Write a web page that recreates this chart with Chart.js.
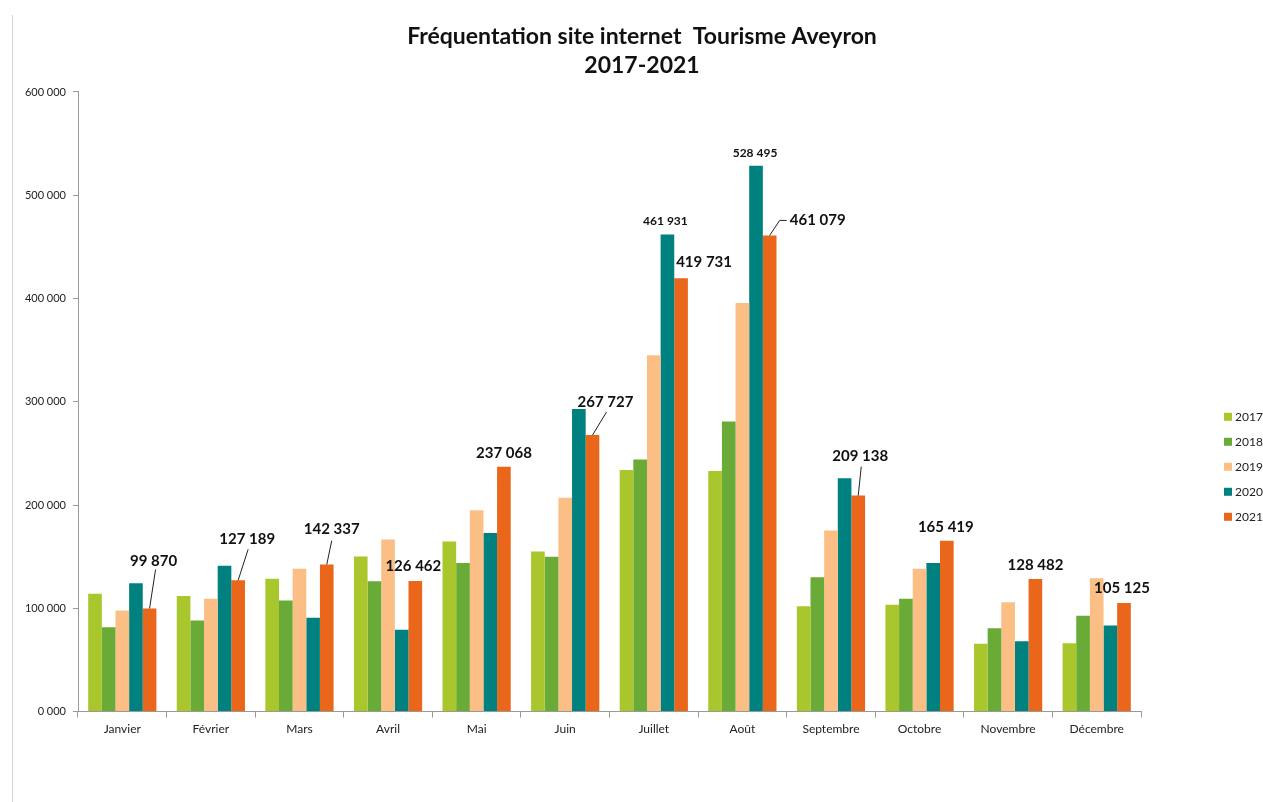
<!DOCTYPE html>
<html lang="fr">

<head>
    <meta charset="UTF-8">
    <title>Fréquentation site internet Tourisme Aveyron</title>
    <script src="https://cdn.jsdelivr.net/npm/chart.js@4.4.0/dist/chart.umd.min.js"></script>
    <style>
        body { margin: 0; background: #fff; }
        #cadre { position: relative; width: 1263px; height: 802px; }
        #trait { position: absolute; left: 12px; top: 15px; bottom: 0; border-left: 1px solid #d4d4d4; }
    </style>
</head>

<body>
    <div id="cadre">
        <div id="trait"></div>
        <canvas id="myChart" width="1263" height="802"></canvas>
    </div>

    <script>
        // données
        const mois = ['Janvier', 'Février', 'Mars', 'Avril', 'Mai', 'Juin', 'Juillet', 'Août', 'Septembre', 'Octobre', 'Novembre', 'Décembre']
        const annees = ['2017', '2018', '2019', '2020', '2021']
        const v2017 = [114000, 112000, 128600, 150200, 164700, 155000, 234000, 233000, 102000, 103400, 65600, 66200]
        const v2018 = [81700, 88200, 107600, 126300, 144000, 150000, 244000, 281000, 130100, 109200, 80700, 92700]
        const v2019 = [97900, 109200, 138300, 166700, 195000, 207000, 345000, 395700, 175400, 138300, 105900, 129200]
        const v2020 = [124300, 141200, 90800, 79200, 173000, 293000, 461931, 528495, 226000, 144000, 68100, 83300]
        const v2021 = [99870, 127189, 142337, 126462, 237068, 267727, 419731, 461079, 209138, 165419, 128482, 105125]
        const yTicks = [0, 100000, 200000, 300000, 400000, 500000, 600000]

        const couleurs = ['#a9c62c', '#6aaa37', '#fbbf86', '#00807f', '#e9661a']

        // étiquettes de valeur : décalage par rapport au haut de la barre, trait de rappel éventuel
        const etiquettes = [
            { ds: 4, i: 0, dx: 4, dy: -47, trait: [[2, 8]] },
            { ds: 4, i: 1, dx: 9, dy: -41, trait: [[1, 10]] },
            { ds: 4, i: 2, dx: 5, dy: -35, trait: [[0, 11]] },
            { ds: 4, i: 3, dx: -2, dy: -15 },
            { ds: 4, i: 4, dx: 0, dy: -14 },
            { ds: 4, i: 5, dx: 13, dy: -33, trait: [[1, 10]] },
            { ds: 4, i: 6, dx: 23, dy: -16 },
            { ds: 4, i: 7, dx: 48, dy: -15, trait: [[-31, 0], [-38, 0]] },
            { ds: 4, i: 8, dx: 2, dy: -39, trait: [[1, 10]] },
            { ds: 4, i: 9, dx: -1, dy: -14 },
            { ds: 4, i: 10, dx: 0, dy: -14 },
            { ds: 4, i: 11, dx: -2, dy: -15 },
            { ds: 3, i: 6, dx: -2, dy: -13, petit: true },
            { ds: 3, i: 7, dx: -1, dy: -13, petit: true }
        ]

        const milliers = v => String(v).replace(/\B(?=(\d{3})+(?!\d))/g, ' ')

        const valeursPlugin = {
            id: 'valeurs',
            afterDatasetsDraw(chart) {
                const ctx = chart.ctx
                ctx.save()
                ctx.fillStyle = '#111'
                ctx.strokeStyle = '#222'
                ctx.lineWidth = 1
                ctx.textAlign = 'center'
                ctx.textBaseline = 'middle'
                etiquettes.forEach(e => {
                    const bar = chart.getDatasetMeta(e.ds).data[e.i]
                    const val = chart.data.datasets[e.ds].data[e.i]
                    const x = bar.x + e.dx
                    const y = bar.y + e.dy
                    ctx.font = e.petit ? 'bold 12px Lato' : 'bold 15px Lato'
                    ctx.fillText(milliers(val), x, y)
                    if (e.trait) {
                        ctx.beginPath()
                        e.trait.forEach((p, k) => {
                            if (k == 0) ctx.moveTo(x + p[0], y + p[1])
                            else ctx.lineTo(x + p[0], y + p[1])
                        })
                        ctx.lineTo(bar.x, bar.y)
                        ctx.stroke()
                    }
                })
                ctx.restore()
            }
        }

        // légende à droite, comme dans Excel
        const legendePlugin = {
            id: 'legende',
            afterDraw(chart) {
                const ctx = chart.ctx
                const a = chart.chartArea
                const x = a.right + 83
                const y0 = (a.top + a.bottom) / 2 + 15
                ctx.save()
                ctx.font = '12px Lato'
                ctx.textBaseline = 'middle'
                chart.data.datasets.forEach((d, k) => {
                    const y = y0 + k * 25
                    ctx.fillStyle = d.backgroundColor
                    ctx.fillRect(x, y - 4, 8, 8)
                    ctx.fillStyle = '#222'
                    ctx.fillText(d.label, x + 11, y)
                })
                ctx.restore()
            }
        }

        const series = [v2017, v2018, v2019, v2020, v2021]

        Chart.defaults.font.family = 'Lato'
        Chart.defaults.color = '#222'

        const ctx = document.getElementById('myChart').getContext('2d')
        const myChart = new Chart(ctx, {
            type: 'bar',
            data: {
                labels: mois,
                datasets: series.map((s, k) => ({
                    label: annees[k],
                    data: s,
                    backgroundColor: couleurs[k],
                    categoryPercentage: 0.77,
                    barPercentage: 1
                }))
            },
            options: {
                responsive: false,
                animation: false,
                layout: {
                    padding: { left: 21, right: 0, top: 0, bottom: 62 }
                },
                plugins: {
                    legend: { display: false },
                    tooltip: { enabled: false },
                    title: {
                        display: true,
                        text: ['Fréquentation site internet  Tourisme Aveyron', '2017-2021'],
                        color: '#111',
                        font: { size: 23, weight: 'bold', lineHeight: 1.26 },
                        padding: { top: 22, bottom: 12 }
                    }
                },
                scales: {
                    x: {
                        grid: { display: true, drawOnChartArea: false, offset: true, tickLength: 6, color: '#999' },
                        border: { color: '#999' },
                        ticks: { padding: 4, font: { size: 12 } }
                    },
                    y: {
                        min: 0,
                        max: 600000,
                        afterFit: s => { s.width = 57 },
                        afterBuildTicks: s => { s.ticks = yTicks.map(v => ({ value: v })) },
                        grid: { display: true, drawOnChartArea: false, tickLength: 5, color: '#999' },
                        border: { color: '#999' },
                        ticks: {
                            padding: 7,
                            font: { size: 11 },
                            callback: v => (v / 1000) + ' 000'
                        }
                    },
                    // place réservée à la légende
                    y2: {
                        position: 'right',
                        afterFit: s => { s.width = 122 },
                        grid: { display: false },
                        border: { display: false },
                        ticks: { display: false }
                    }
                }
            },
            plugins: [valeursPlugin, legendePlugin]
        })
    </script>
</body>

</html>
